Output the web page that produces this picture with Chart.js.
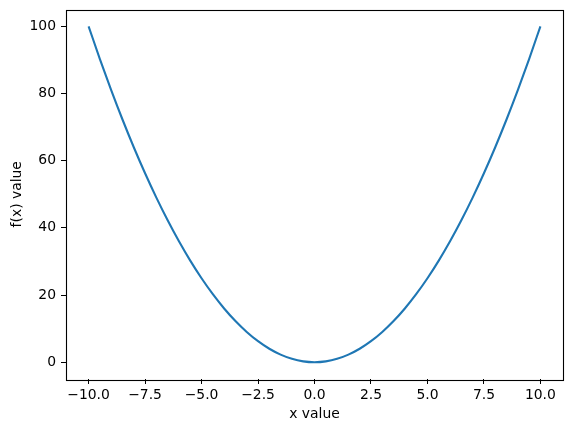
<!DOCTYPE html>
<html>
<head>
<meta charset="utf-8">
<script src="https://cdn.jsdelivr.net/npm/chart.js@4"></script>
<style>
    html, body { margin: 0; padding: 0; background: #fff; }
    #wrap { width: 571px; height: 432px; }
</style>
</head>
<body>
<div id="wrap"><canvas id="chart" width="571" height="432"></canvas></div>
<script>
// values
const xValues = [-10, -9.5, -9, -8.5, -8, -7.5, -7, -6.5, -6, -5.5, -5, -4.5, -4, -3.5, -3, -2.5, -2, -1.5, -1, -0.5,
    0, 0.5, 1, 1.5, 2, 2.5, 3, 3.5, 4, 4.5, 5, 5.5, 6, 6.5, 7, 7.5, 8, 8.5, 9, 9.5, 10];
const yValues = [100, 90.25, 81, 72.25, 64, 56.25, 49, 42.25, 36, 30.25, 25, 20.25, 16, 12.25, 9, 6.25, 4, 2.25, 1, 0.25,
    0, 0.25, 1, 2.25, 4, 6.25, 9, 12.25, 16, 20.25, 25, 30.25, 36, 42.25, 49, 56.25, 64, 72.25, 81, 90.25, 100];
const xTicks = [-10, -7.5, -5, -2.5, 0, 2.5, 5, 7.5, 10];
const yTicks = [0, 20, 40, 60, 80, 100];

const FONT = { family: 'DejaVu Sans', size: 13.9 };
const LINE_COLOR = '#1f77b4';

function fmtX(v) {
    return (v < 0 ? '\u2212' : '') + Math.abs(v).toFixed(1);
}

// draw all four spines
const boxPlugin = {
    id: 'box',
    afterDraw(chart) {
        const a = chart.chartArea;
        const ctx = chart.ctx;
        ctx.save();
        ctx.strokeStyle = '#000';
        ctx.lineWidth = 1.1;
        ctx.strokeRect(Math.round(a.left) + 0.5, Math.round(a.top) + 0.5,
            Math.round(a.right - a.left), Math.round(a.bottom - a.top));
        ctx.restore();
    }
};

const points = xValues.map((x, i) => ({ x: x, y: yValues[i] }));

new Chart(document.getElementById('chart').getContext('2d'), {
    type: 'line',
    data: {
        datasets: [{
            data: points,
            borderColor: LINE_COLOR,
            borderWidth: 2.1,
            pointRadius: 0,
            fill: false,
            cubicInterpolationMode: 'monotone'
        }]
    },
    options: {
        responsive: false,
        animation: false,
        layout: { padding: { left: 0, top: 9.5, right: 8, bottom: 0 } },
        plugins: { legend: { display: false }, tooltip: { enabled: false } },
        scales: {
            x: {
                type: 'linear',
                min: -11,
                max: 11,
                afterBuildTicks: (s) => { s.ticks = xTicks.map(v => ({ value: v })); },
                afterFit: (s) => { s.height = 53; s.paddingLeft = 0; s.paddingRight = 0; },
                grid: { drawOnChartArea: false, drawTicks: true, tickLength: 5, tickColor: '#000', color: '#000' },
                border: { display: false },
                ticks: { color: '#000', font: FONT, padding: 3, maxRotation: 0, autoSkip: false, callback: (v) => fmtX(v) },
                title: { display: true, text: 'x value', color: '#000', font: FONT, padding: { top: 0, bottom: 9 } }
            },
            y: {
                type: 'linear',
                min: -5,
                max: 105,
                afterBuildTicks: (s) => { s.ticks = yTicks.map(v => ({ value: v })); },
                afterFit: (s) => { s.width = 66; s.paddingTop = 0; s.paddingBottom = 0; },
                grid: { drawOnChartArea: false, drawTicks: true, tickLength: 5, tickColor: '#000', color: '#000' },
                border: { display: false },
                ticks: { color: '#000', font: FONT, padding: 5, autoSkip: false, callback: (v) => String(v) },
                title: { display: true, text: 'f(x) value', color: '#000', font: FONT, padding: { top: 9, bottom: 9 } }
            }
        }
    },
    plugins: [boxPlugin]
});
</script>
</body>
</html>
